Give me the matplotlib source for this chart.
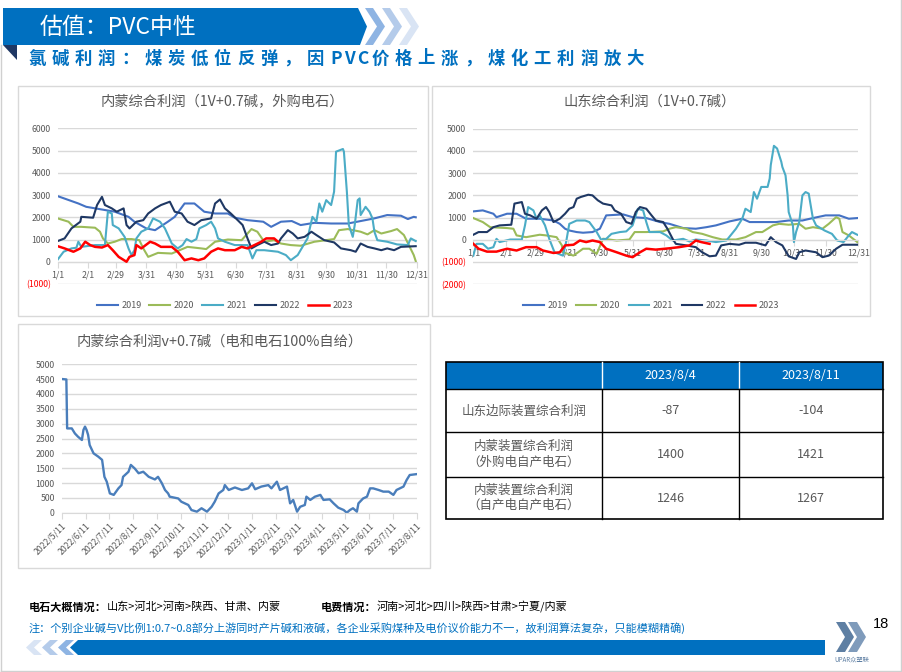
import matplotlib
matplotlib.use('Agg')
import matplotlib.pyplot as plt
from matplotlib.patches import Polygon, Rectangle
import numpy as np
import pandas as pd

# ---------------- DATA ----------------
years = ['2019', '2020', '2021', '2022', '2023']
month_labels = ['1/1', '2/1', '2/29', '3/31', '4/30', '5/31', '6/30', '7/31',
                '8/31', '9/30', '10/31', '11/30', '12/31']

# Chart 1: 内蒙综合利润（1V+0.7碱，外购电石） day-of-year / value
nm_2019_d = [0, 21, 29, 58, 72, 78, 90, 99, 112, 119, 129, 139, 149, 160, 173, 180, 193, 209, 217, 227,
             238, 247, 261, 278, 295, 308, 322, 335, 349, 356, 362, 364]
nm_2019_v = [2950, 2620, 2470, 2250, 2020, 1800, 1500, 1420, 1800, 2020, 2620, 2620, 2250, 2170, 2170, 1980,
             1870, 1800, 1570, 1800, 1830, 1650, 1750, 1720, 1720, 1830, 1950, 2100, 2070, 1920, 2020, 2000]
nm_2020_d = [0, 11, 16, 24, 38, 43, 46, 51, 58, 65, 75, 83, 87, 92, 102, 116, 124, 132, 146, 151,
             160, 173, 187, 193, 197, 203, 210, 220, 227, 237, 247, 261, 281, 286, 295, 308, 315, 322, 329, 339,
             345, 352, 357, 362, 364]
nm_2020_v = [1950, 1800, 1570, 1570, 1530, 1350, 1050, 820, 900, 1020, 1020, 970, 600, 220, 400, 370, 520, 670,
             600, 570, 900, 1000, 970, 1270, 1470, 1350, 900, 970, 820, 750, 720, 900, 1020, 1420, 1470, 1350,
             1230, 1420, 1270, 1380, 1470, 1200, 750, 300, 30]
nm_2021_d = [0, 6, 14, 19, 21, 24, 38, 48, 51, 55, 56, 62, 68, 72, 75, 78, 80, 85, 92, 97,
             104, 109, 116, 122, 127, 131, 136, 141, 144, 151, 156, 160, 163, 170, 180, 193, 198, 202, 210, 224,
             232, 237, 244, 254, 259, 263, 266, 269, 273, 278, 281, 283, 290, 291, 294, 296, 300, 302, 305, 307,
             308, 313, 317, 320, 322, 325, 335, 345, 356, 359, 364]
nm_2021_v = [100, 450, 600, 630, 900, 670, 750, 750, 2250, 2170, 1650, 1500, 1120, 600, 300, 520, 1050, 1350,
             1500, 1950, 1800, 1500, 820, 600, 750, 1020, 900, 1020, 1500, 1650, 1800, 1500, 1050, 900, 750, 750,
             150, 520, 520, 450, 300, 70, 300, 1050, 2020, 1800, 2620, 2250, 2770, 2550, 3150, 4950, 5070, 4950,
             3150, 1650, 1120, 1650, 2770, 2850, 2100, 2470, 2250, 1950, 1350, 970, 900, 780, 750, 1050, 930]
nm_2022_d = [0, 7, 14, 23, 24, 36, 40, 45, 48, 55, 60, 67, 70, 73, 80, 87, 92, 99, 105, 114,
             119, 126, 132, 139, 146, 156, 160, 165, 170, 176, 183, 188, 193, 197, 203, 210, 217, 224, 227, 234,
             239, 244, 251, 258, 263, 271, 281, 288, 298, 303, 308, 315, 322, 329, 335, 342, 349, 364]
nm_2022_v = [930, 1050, 1500, 1800, 2020, 1980, 2550, 2920, 2550, 2400, 2250, 2400, 1650, 1500, 1800, 1870,
             2170, 2400, 2550, 2700, 2250, 2170, 1800, 1650, 1870, 1950, 2620, 2800, 2400, 2170, 1870, 1650,
             1050, 600, 750, 900, 750, 820, 1050, 1420, 1270, 1050, 1120, 1350, 1200, 970, 870, 600, 520, 450,
             820, 670, 600, 520, 600, 520, 670, 700]
nm_2023_d = [0, 7, 16, 23, 28, 33, 38, 45, 51, 56, 62, 70, 73, 78, 80, 85, 94, 99, 105, 116,
             122, 129, 136, 143, 149, 156, 163, 170, 180, 187, 193, 200, 207, 212, 220, 224]
nm_2023_v = [700, 600, 450, 600, 900, 750, 670, 640, 750, 520, 220, 0, 220, 300, 750, 600, 900, 820, 670, 670,
             450, 70, 150, 70, 150, 450, 600, 520, 520, 670, 600, 750, 900, 1050, 1050, 900]

# Chart 2: 山东综合利润（1V+0.7碱）
sd_2019_d = [0, 9, 19, 22, 32, 41, 50, 63, 76, 82, 87, 91, 98, 104, 113, 120, 126, 142, 151, 164,
             177, 186, 199, 211, 221, 230, 243, 255, 262, 274, 287, 299, 312, 322, 334, 347, 356, 364]
sd_2019_v = [1280, 1325, 1175, 1020, 1175, 1175, 950, 950, 870, 720, 500, 420, 350, 320, 350, 500, 1100, 1145,
             1020, 980, 800, 720, 530, 500, 570, 650, 830, 950, 800, 800, 800, 870, 870, 980, 1100, 1100, 950, 980]
sd_2020_d = [0, 9, 16, 32, 38, 41, 50, 63, 69, 79, 84, 85, 95, 104, 110, 117, 123, 136, 148, 153,
             164, 180, 186, 192, 202, 208, 217, 227, 236, 249, 258, 268, 274, 284, 290, 299, 309, 315, 322, 331,
             337, 344, 347, 350, 356, 364]
sd_2020_v = [980, 800, 570, 530, 500, 200, 120, 230, 200, 120, -250, -560, -710, -400, -400, -630, 50, -30, 15,
             350, 350, 380, 500, 570, 500, 350, 270, 120, 15, 15, 120, 350, 350, 650, 720, 680, 720, 500, 570,
             500, 720, 1020, 950, 350, 200, -100]
sd_2021_d = [0, 3, 9, 14, 19, 22, 25, 35, 46, 49, 52, 57, 60, 63, 68, 72, 77, 85, 88, 91,
             98, 106, 110, 117, 121, 126, 131, 139, 145, 151, 156, 161, 164, 167, 177, 183, 189, 199, 205, 211,
             221, 230, 240, 249, 255, 258, 263, 266, 269, 273, 279, 281, 282, 285, 288, 292, 293, 296, 298, 299,
             303, 304, 306, 309, 312, 315, 318, 322, 325, 333, 340, 345, 351, 356, 359, 364]
sd_2021_v = [-710, -180, -180, -400, -330, 45, -100, 15, 15, 650, 1475, 1325, 950, 1100, 650, 45, -560, -710,
             -100, 720, 870, 870, 800, 350, 15, 45, 270, 350, 380, 650, 1400, 1325, 800, 350, 350, 200, -30, 45,
             -75, 15, -30, -100, -30, 500, 950, 1400, 1250, 2150, 1850, 2380, 2380, 2760, 3360, 4230, 4110, 3510,
             3280, 2900, 2000, 1250, 650, -100, 350, 800, 2000, 2150, 2080, 950, 650, 420, 270, -30, -100, 200,
             350, 230]
sd_2022_d = [0, 5, 13, 19, 25, 36, 39, 46, 49, 54, 60, 65, 69, 72, 76, 82, 87, 91, 95, 98,
             102, 109, 113, 118, 123, 131, 134, 140, 145, 150, 154, 158, 164, 169, 173, 180, 184, 189, 192, 202,
             211, 217, 224, 230, 235, 243, 252, 258, 268, 277, 282, 287, 293, 299, 306, 309, 315, 325, 331, 337,
             344, 350, 356, 364]
sd_2022_v = [230, 350, 350, 570, 650, 680, 1630, 1700, 1175, 1100, 950, 1325, 1475, 1250, 800, 950, 1175, 1400,
             1475, 1850, 1930, 2030, 2000, 1780, 1630, 1550, 1325, 1175, 800, 720, 1250, 1475, 1400, 1100, 870,
             800, 500, 45, -180, -250, -330, -560, -740, -710, -250, -180, -220, -130, -130, -250, 120, -100,
             -250, -740, -860, -560, -480, -560, -780, -710, -400, -220, -220, -220]
sd_2023_d = [0, 5, 13, 22, 32, 41, 50, 60, 66, 76, 82, 87, 95, 101, 107, 113, 120, 126, 136, 145,
             151, 158, 164, 173, 186, 195, 205, 211, 216, 224]
sd_2023_v = [-180, -400, -530, -530, -400, -480, -330, -330, -480, -590, -560, -250, -220, -30, -100, -30, -100,
             -400, -560, -710, -780, -560, -400, -440, -380, -330, -250, -30, -100, -180]

# Chart 3: 内蒙综合利润v+0.7碱（电和电石100%自给）, days since 2022/5/11
self_start = '2022-05-11'
self_d = [0, 6, 7, 13, 17, 21, 26, 28, 30, 32, 34, 36, 41, 47, 52, 55, 58, 62, 67, 73,
          77, 79, 86, 89, 94, 99, 105, 112, 120, 124, 129, 133, 137, 139, 150, 154, 163, 167, 174, 180,
          187, 193, 197, 202, 208, 210, 215, 223, 232, 240, 245, 249, 257, 266, 270, 277, 281, 290, 294, 298,
          303, 307, 313, 315, 320, 326, 333, 337, 345, 350, 356, 363, 367, 371, 375, 380, 382, 388, 393, 397,
          401, 408, 414, 421, 427, 431, 440, 444, 448, 457]
self_v = [4505, 4490, 2840, 2840, 2670, 2560, 2450, 2790, 2900, 2790, 2620, 2280, 2000, 1890, 1780, 1210, 1045,
          650, 600, 820, 930, 1210, 1380, 1610, 1490, 1330, 1380, 1210, 1120, 1210, 990, 765, 650, 540, 480,
          370, 260, 90, 35, 150, 35, 200, 370, 650, 765, 930, 765, 850, 765, 820, 990, 790, 880, 930, 820, 1045,
          765, 880, 315, 430, 35, 200, 260, 540, 430, 540, 600, 430, 450, 315, 170, 90, 0, 90, 150, 35, 315,
          480, 540, 820, 820, 765, 710, 710, 600, 765, 880, 1100, 1270, 1300]
self_tick_labels = ['2022/5/11', '2022/6/11', '2022/7/11', '2022/8/11', '2022/9/11', '2022/10/11',
                    '2022/11/11', '2022/12/11', '2023/1/11', '2023/2/11', '2023/3/11', '2023/4/11',
                    '2023/5/11', '2023/6/11', '2023/7/11', '2023/8/11']

# Table
table_cols = ['', '2023/8/4', '2023/8/11']
table_rows = ['山东边际装置综合利润', '内蒙装置综合利润\n（外购电自产电石）', '内蒙装置综合利润\n（自产电自产电石）']
table_v1 = ['-87', '1400', '1246']
table_v2 = ['-104', '1421', '1267']

# ---------------- STYLE ----------------
plt.rcParams['font.family'] = ['Noto Sans CJK SC', 'DejaVu Sans']
colors = {'2019': '#4472C4', '2020': '#9BBB59', '2021': '#4BACC6', '2022': '#1F3864', '2023': '#FF0000'}
widths = {'2019': 1.5, '2020': 1.5, '2021': 1.5, '2022': 1.5, '2023': 1.8}
BLUE = '#0070C0'
GRAY = '#595959'
GRID = '#D9D9D9'

W, H = 902, 672
fig = plt.figure(figsize=(W / 100, H / 100), dpi=100)
bg = fig.add_axes([0, 0, 1, 1])
bg.set_xlim(0, W)
bg.set_ylim(H, 0)
bg.axis('off')


def axes_px(x0, y0, x1, y1):
    ax = fig.add_axes([x0 / W, 1 - y1 / H, (x1 - x0) / W, (y1 - y0) / H])
    ax.set_facecolor('none')
    return ax


# ---------------- HEADER ----------------
bg.add_patch(Polygon([(3, 8), (358, 8), (367, 26.5), (360, 45), (3, 45)], closed=True,
                     facecolor=BLUE, edgecolor='none'))
for x0, c in [(365, '#8EB4E3'), (382, '#B4CBEA'), (399, '#D9E4F4')]:
    bg.add_patch(Polygon([(x0, 8), (x0 + 8, 8), (x0 + 20, 26.5), (x0 + 8, 45), (x0, 45), (x0 + 12, 26.5)],
                         closed=True, facecolor=c, edgecolor='none'))
bg.add_patch(Polygon([(3, 45), (17, 45), (17, 60)], closed=True, facecolor='#1F3864', edgecolor='none'))
bg.text(40, 27, '估值：PVC中性', color='white', fontsize=16.5, ha='left', va='center')

subtitle = '氯碱利润：煤炭低位反弹，因PVC价格上涨，煤化工利润放大'
xc = 28.3
for ch in subtitle:
    bg.text(xc, 58.5, ch, fontsize=12.5, fontweight='bold', color=BLUE, ha='left', va='center')
    xc += 13.8 if ch.isascii() else 23.2

# slide frame
bg.plot([1, 1], [45, 671], color='#D0D0D0', lw=1)
bg.plot([900.5, 900.5], [0, 671], color='#D0D0D0', lw=1)
bg.plot([1, 900.5], [671, 671], color='#D0D0D0', lw=1)

# chart boxes
for (x0, y0, x1, y1) in [(17.5, 85.5, 428, 316), (432, 85.5, 870, 316), (17.5, 324, 430, 568)]:
    bg.add_patch(Rectangle((x0, y0), x1 - x0, y1 - y0, facecolor='white', edgecolor=GRID, lw=1))

bg.text(222, 102, '内蒙综合利润（1V+0.7碱，外购电石）', fontsize=10.3, color=GRAY, ha='center', va='center')
bg.text(650, 102, '山东综合利润（1V+0.7碱）', fontsize=10.3, color=GRAY, ha='center', va='center')
bg.text(220, 341.5, '内蒙综合利润v+0.7碱（电和电石100%自给）', fontsize=10.3, color=GRAY, ha='center', va='center')

month_days = [(pd.Timestamp('2020/' + m) - pd.Timestamp('2020-01-01')).days for m in month_labels]


def year_chart(ax, data, ylo, yhi, leg_x, leg_y):
    for yr, d, v in data:
        ax.plot(d, v, color=colors[yr], lw=widths[yr], label=yr, zorder=3 if yr == '2023' else 2)
    ax.set_xlim(0, 365)
    ax.set_ylim(ylo, yhi)
    ticks = list(range(ylo, yhi + 1, 1000))
    ax.set_yticks(ticks)
    ax.set_yticklabels(['(%d)' % (-t) if t < 0 else '%d' % t for t in ticks])
    for lab, t in zip(ax.get_yticklabels(), ticks):
        lab.set_color('#FF0000' if t < 0 else GRAY)
    ax.set_axisbelow(True)
    ax.grid(axis='y', color=GRID, lw=1)
    for s in ['top', 'right', 'left']:
        ax.spines[s].set_visible(False)
    ax.spines['bottom'].set_position(('data', 0))
    ax.spines['bottom'].set_color(GRID)
    ax.set_xticks(month_days)
    ax.set_xticklabels(month_labels)
    ax.tick_params(axis='x', length=4, color=GRID, labelsize=6.3, labelcolor=GRAY, pad=2)
    ax.tick_params(axis='y', length=0, labelsize=6.3, pad=5)
    ax.legend(loc='center', bbox_to_anchor=(leg_x, leg_y), ncol=5, frameon=False, fontsize=6.5,
              handlelength=2.3, handletextpad=0.4, columnspacing=0.9, labelcolor=GRAY)


ax1 = axes_px(57.7, 128.3, 416.7, 284)
year_chart(ax1, [('2019', nm_2019_d, nm_2019_v), ('2020', nm_2020_d, nm_2020_v), ('2021', nm_2021_d, nm_2021_v),
                 ('2022', nm_2022_d, nm_2022_v), ('2023', nm_2023_d, nm_2023_v)], -1000, 6000, 0.466, -0.139)

ax2 = axes_px(473.3, 128.7, 858.3, 284.3)
year_chart(ax2, [('2019', sd_2019_d, sd_2019_v), ('2020', sd_2020_d, sd_2020_v), ('2021', sd_2021_d, sd_2021_v),
                 ('2022', sd_2022_d, sd_2022_v), ('2023', sd_2023_d, sd_2023_v)], -2000, 5000, 0.462, -0.138)

# chart 3
ax3 = axes_px(61.7, 364.3, 416.7, 512.7)
ax3.plot(self_d, self_v, color='#4A7EBB', lw=1.7)
ax3.set_xlim(0, 457)
ax3.set_ylim(0, 5000)
ax3.set_yticks(range(0, 5001, 500))
ax3.set_axisbelow(True)
ax3.grid(axis='y', color=GRID, lw=1)
for s in ['top', 'right', 'left']:
    ax3.spines[s].set_visible(False)
ax3.spines['bottom'].set_color(GRID)
ticks3 = [(pd.Timestamp(t) - pd.Timestamp(self_start)).days for t in self_tick_labels]
ax3.set_xticks(ticks3)
ax3.set_xticklabels(self_tick_labels, rotation=45, ha='right', va='top', rotation_mode='anchor')
ax3.tick_params(axis='x', length=4, color=GRID, labelsize=6.3, labelcolor=GRAY, pad=2)
ax3.tick_params(axis='y', length=0, labelsize=6.3, labelcolor=GRAY, pad=5)

# ---------------- TABLE ----------------
cx = [445.7, 602.3, 739.3, 883.3]
ry = [362.3, 389.3, 432.3, 476.7, 519.3]
bg.add_patch(Rectangle((cx[0], ry[0]), cx[3] - cx[0], ry[1] - ry[0], facecolor=BLUE, edgecolor='none'))
for x in cx[1:3]:
    bg.plot([x, x], [ry[0], ry[1]], color='white', lw=1)
    bg.plot([x, x], [ry[1], ry[4]], color='black', lw=1)
for y in ry[1:4]:
    bg.plot([cx[0], cx[3]], [y, y], color='black', lw=1)
bg.add_patch(Rectangle((cx[0], ry[0]), cx[3] - cx[0], ry[4] - ry[0], facecolor='none', edgecolor='black', lw=1.2))
for j in (1, 2):
    bg.text((cx[j] + cx[j + 1]) / 2, (ry[0] + ry[1]) / 2, table_cols[j], color='white', fontsize=9,
            ha='center', va='center')
for i, (lab, v1, v2) in enumerate(zip(table_rows, table_v1, table_v2)):
    yc = (ry[i + 1] + ry[i + 2]) / 2
    bg.text((cx[0] + cx[1]) / 2, yc, lab, color=GRAY, fontsize=9, ha='center', va='center', linespacing=1.25)
    bg.text((cx[1] + cx[2]) / 2, yc, v1, color=GRAY, fontsize=9, ha='center', va='center')
    bg.text((cx[2] + cx[3]) / 2, yc, v2, color=GRAY, fontsize=9, ha='center', va='center')

# ---------------- FOOTER ----------------
t1 = bg.text(28.5, 607, '电石大概情况：', fontsize=8, fontweight='bold', color='black', ha='left', va='center')
bg.annotate('山东>河北>河南>陕西、甘肃、内蒙', xy=(1, 0.5), xycoords=t1, fontsize=8, color='black',
            ha='left', va='center')
t2 = bg.text(321, 607, '电费情况：', fontsize=8, fontweight='bold', color='black', ha='left', va='center')
bg.annotate('河南>河北>四川>陕西>甘肃>宁夏/内蒙', xy=(1, 0.5), xycoords=t2, fontsize=8, color='black',
            ha='left', va='center')
bg.text(28.5, 628.5, '注：个别企业碱与V比例1:0.7~0.8部分上游同时产片碱和液碱，各企业采购煤种及电价议价能力不一，'
        '故利润算法复杂，只能模糊精确)', fontsize=8, color=BLUE, ha='left', va='center')
bg.text(881, 624, '18', fontsize=10.5, color='black', ha='center', va='center', family='Liberation Sans')

bg.add_patch(Polygon([(78, 640), (825, 640), (825, 655), (78, 655), (70, 647.5)], closed=True,
                     facecolor=BLUE, edgecolor='none'))
for x0, c in [(26, '#D9E4F4'), (42, '#B4CBEA'), (58, '#8EB4E3')]:
    bg.add_patch(Polygon([(x0 + 8, 640), (x0 + 16, 640), (x0 + 8, 647.5), (x0 + 16, 655), (x0 + 8, 655),
                          (x0, 647.5)], closed=True, facecolor=c, edgecolor='none'))
# logo
for x0, c in [(836, '#5E7FA3'), (848, '#7F9BBB')]:
    bg.add_patch(Polygon([(x0, 622), (x0 + 9, 622), (x0 + 18, 637), (x0 + 9, 652), (x0, 652), (x0 + 9, 637)],
                         closed=True, facecolor=c, edgecolor='none'))
bg.text(852, 659, 'UPAR众塑联', fontsize=4.5, color='#5E7FA3', ha='center', va='center')

fig.savefig('out.png', dpi=100)
